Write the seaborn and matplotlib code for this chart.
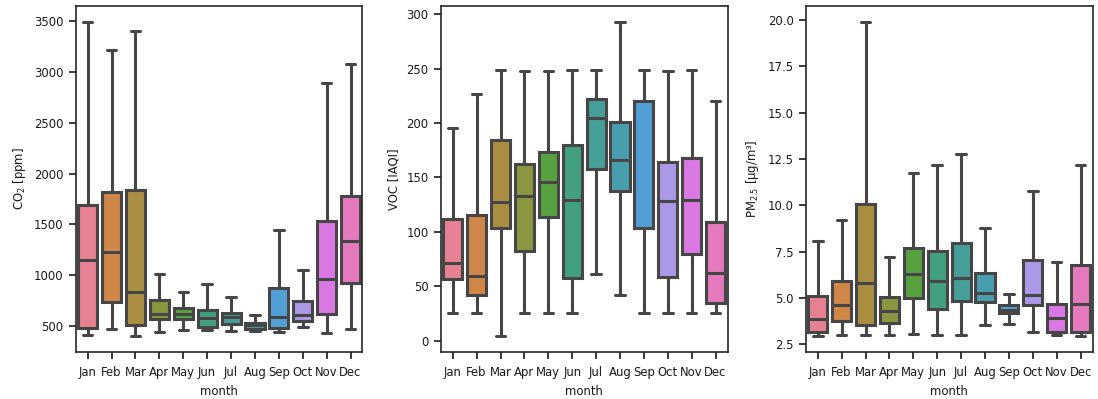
import numpy as np
import pandas as pd
import matplotlib
matplotlib.use("Agg")
import matplotlib.pyplot as plt
import seaborn as sns

months = ["Jan", "Feb", "Mar", "Apr", "May", "Jun",
          "Jul", "Aug", "Sep", "Oct", "Nov", "Dec"]

# Monthly five-number summaries (min, lower quartile, median, upper quartile, max)
co2_min = [411, 474, 402, 447, 467, 467, 457, 454, 441, 493, 434, 477]
co2_q1 = [484, 740, 510, 574, 574, 493, 526, 474, 484, 549, 621, 927]
co2_med = [1147, 1229, 838, 621, 624, 577, 589, 516, 589, 615, 960, 1337]
co2_q3 = [1692, 1823, 1836, 753, 681, 664, 631, 536, 871, 750, 1534, 1777]
co2_max = [3493, 3215, 3405, 1009, 838, 917, 786, 612, 1445, 1048, 2886, 3077]

voc_min = [25.8, 25.8, 4.3, 25.8, 25.8, 25.8, 61.0, 41.7, 25.8, 25.2, 25.8, 25.8]
voc_q1 = [57.0, 42.0, 104.0, 82.5, 114.1, 57.7, 157.7, 137.4, 104.0, 58.9, 80.0, 34.7]
voc_med = [71.2, 59.5, 127.6, 133.4, 146.3, 129.4, 204.9, 166.0, 104.0, 128.2, 129.1, 62.6]
voc_q3 = [111.7, 116.0, 184.0, 162.3, 173.3, 180.0, 222.0, 200.6, 220.0, 164.4, 168.0, 109.5]
voc_max = [195.0, 226.7, 249.0, 248.0, 248.0, 248.8, 249.0, 293.0, 248.8, 247.9, 249.0, 220.2]

pm_min = [2.93, 3.00, 3.00, 3.00, 3.04, 3.00, 3.00, 3.56, 3.60, 3.15, 2.98, 2.95]
pm_q1 = [3.15, 3.76, 3.56, 3.65, 5.00, 4.42, 4.84, 4.75, 4.19, 4.62, 3.17, 3.15]
pm_med = [3.87, 4.62, 5.81, 4.30, 6.26, 5.93, 6.06, 5.27, 4.36, 5.16, 3.92, 4.69]
pm_q3 = [5.12, 5.91, 10.08, 5.05, 7.67, 7.51, 7.98, 6.35, 4.62, 7.06, 4.67, 6.78]
pm_max = [8.05, 9.18, 19.90, 7.19, 11.75, 12.17, 12.74, 8.77, 5.20, 10.75, 6.92, 12.15]


def long_frame(name, *cols):
    rows = []
    for i, m in enumerate(months):
        for c in cols:
            rows.append({"month": m, name: c[i]})
    return pd.DataFrame(rows)


co2 = long_frame("co2", co2_min, co2_q1, co2_med, co2_q3, co2_max)
voc = long_frame("voc", voc_min, voc_q1, voc_med, voc_q3, voc_max)
pm = long_frame("pm", pm_min, pm_q1, pm_med, pm_q3, pm_max)

sns.set_theme(style="ticks", context="paper")
plt.rcParams["font.family"] = ["DejaVu Sans"]
plt.rcParams.update({
    "xtick.labelsize": 8.4,
    "ytick.labelsize": 8.4,
    "axes.labelsize": 8.4,
    "axes.labelpad": 4.5,
    "xtick.major.size": 4.8,
    "ytick.major.size": 4.8,
    "xtick.major.pad": 5.5,
    "ytick.major.pad": 4,
    "axes.linewidth": 1.2,
    "xtick.major.width": 1.2,
    "ytick.major.width": 1.2,
    "text.color": "#1a1a1a",
    "axes.labelcolor": "#1a1a1a",
    "xtick.color": "#1a1a1a",
    "ytick.color": "#1a1a1a",
})

fig, axes = plt.subplots(1, 3, figsize=(10.98, 3.99), dpi=100)
fig.subplots_adjust(left=0.069, right=0.995, bottom=0.118, top=0.985, wspace=0.273)

palette = sns.color_palette("husl", len(months))
panels = [(co2, "co2", "CO$_2$ [ppm]"),
          (voc, "voc", "VOC [IAQI]"),
          (pm, "pm", "PM$_{2.5}$ [µg/m³]")]

for ax, (df, col, label) in zip(axes, panels):
    sns.boxplot(data=df, x="month", y=col, hue="month", order=months,
                hue_order=months, palette=palette, legend=False,
                whis=(0, 100), showfliers=False, linewidth=2.2,
                linecolor="#464646", ax=ax)
    ax.set_ylabel(label)
    ax.set_xlabel("month")

fig.savefig("out.png", dpi=100)
